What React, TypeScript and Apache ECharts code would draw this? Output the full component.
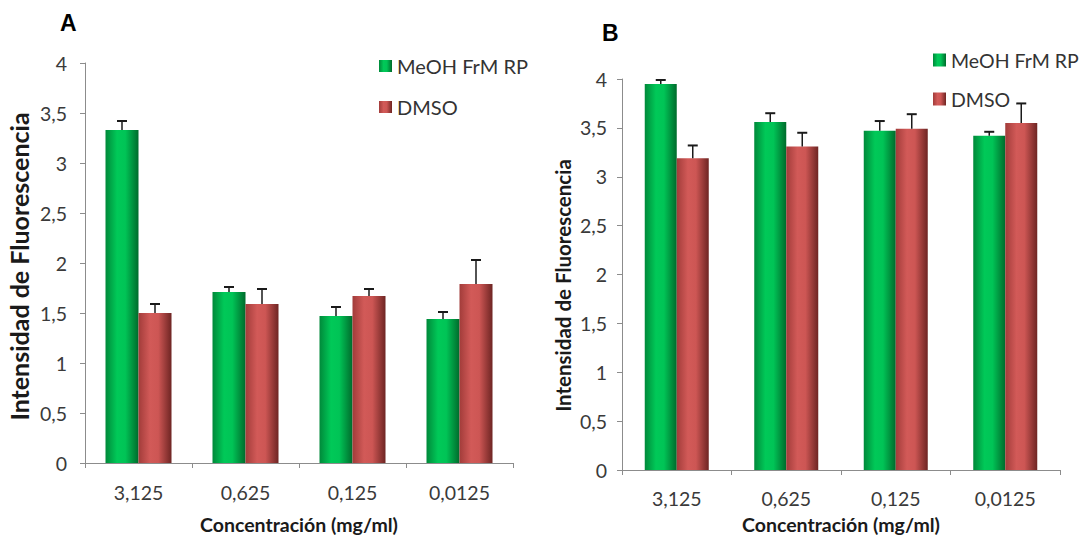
import React, { useEffect, useRef } from "react";
import * as echarts from "echarts";

const categories = ["3,125", "0,625", "0,125", "0,0125"];
const seriesNames = ["MeOH FrM RP", "DMSO"];
const yTicksMax = 4;
const yTickStep = 0.5;

// Panel A
const aMeOH = [3.33, 1.71, 1.47, 1.44];
const aMeOHErr = [0.09, 0.05, 0.09, 0.07];
const aDMSO = [1.5, 1.59, 1.67, 1.79];
const aDMSOErr = [0.09, 0.15, 0.07, 0.24];

// Panel B
const bMeOH = [3.95, 3.56, 3.47, 3.42];
const bMeOHErr = [0.04, 0.09, 0.1, 0.04];
const bDMSO = [3.19, 3.31, 3.49, 3.55];
const bDMSOErr = [0.13, 0.14, 0.15, 0.2];

const FONT = "Lato";

const greenGrad = new echarts.graphic.LinearGradient(0, 0, 1, 0, [
  { offset: 0, color: "#00893a" },
  { offset: 0.35, color: "#00c958" },
  { offset: 0.6, color: "#00c456" },
  { offset: 1, color: "#006b2c" },
]);
const redGrad = new echarts.graphic.LinearGradient(0, 0, 1, 0, [
  { offset: 0, color: "#a23c3a" },
  { offset: 0.35, color: "#d25a58" },
  { offset: 0.6, color: "#cd5654" },
  { offset: 1, color: "#6e2523" },
]);

function errSeries(name: string, gridIdx: number, vals: number[], errs: number[], offset: number) {
  return {
    type: "custom",
    name: name + " err",
    xAxisIndex: gridIdx,
    yAxisIndex: gridIdx,
    z: 10,
    silent: true,
    encode: { x: 0, y: 1 },
    data: vals.map((v, i) => [i, v, errs[i]]),
    renderItem: (params: any, api: any) => {
      const idx = api.value(0);
      const val = api.value(1);
      const err = api.value(2);
      const base = api.coord([idx, val]);
      const top = api.coord([idx, val + err]);
      const x = base[0] + offset;
      return {
        type: "group",
        children: [
          { type: "line", shape: { x1: x, y1: base[1], x2: x, y2: top[1] }, style: { stroke: "#1a1a1a", lineWidth: 1.5 } },
          { type: "line", shape: { x1: x - 5, y1: top[1], x2: x + 5, y2: top[1] }, style: { stroke: "#1a1a1a", lineWidth: 2 } },
        ],
      };
    },
  };
}

function barSeries(name: string, gridIdx: number, vals: number[], grad: any, bw: number) {
  return {
    type: "bar",
    name,
    xAxisIndex: gridIdx,
    yAxisIndex: gridIdx,
    barWidth: bw,
    barGap: "0%",
    data: vals,
    itemStyle: { color: grad },
  };
}

function xAxisCfg(gridIdx: number, labelMargin: number, nameGap: number) {
  return {
    type: "category",
    gridIndex: gridIdx,
    data: categories,
    axisLine: { lineStyle: { color: "#8c8c8c", width: 1 } },
    axisTick: { show: true, length: 5, lineStyle: { color: "#8c8c8c" } },
    axisLabel: { color: "#3a3a3a", fontSize: 19.5, fontFamily: FONT, margin: labelMargin },
    name: "Concentración (mg/ml)",
    nameLocation: "middle",
    nameGap,
    nameTextStyle: { color: "#1a1a1a", fontSize: 19.5, fontWeight: "bold", fontFamily: FONT },
  };
}

function yAxisCfg(gridIdx: number, labelMargin: number, nameGap: number, nameSize: number, padRight: number) {
  return {
    type: "value",
    gridIndex: gridIdx,
    min: 0,
    max: yTicksMax,
    interval: yTickStep,
    axisLine: { show: true, lineStyle: { color: "#8c8c8c", width: 1 } },
    axisTick: { show: true, length: 5, lineStyle: { color: "#8c8c8c" } },
    splitLine: { show: false },
    axisLabel: {
      color: "#3a3a3a",
      fontSize: 19.5,
      fontFamily: FONT,
      margin: labelMargin,
      formatter: (v: number) => String(v).replace(".", ","),
    },
    name: "Intensidad de Fluorescencia",
    nameLocation: "middle",
    nameGap,
    nameTextStyle: {
      color: "#1a1a1a",
      fontSize: nameSize,
      fontWeight: "bold",
      fontFamily: FONT,
      padding: [0, padRight, 0, 0],
    },
  };
}

export default function App() {
  const ref = useRef<HTMLDivElement>(null);
  useEffect(() => {
    if (!ref.current) return;
    const chart = echarts.init(ref.current, null, { renderer: "svg" });
    chart.setOption({
      animation: false,
      backgroundColor: "#ffffff",
      grid: [
        { left: 85, right: 575, top: 63, bottom: 73 },
        { left: 622, right: 28, top: 79, bottom: 67 },
      ],
      xAxis: [xAxisCfg(0, 19, 51), xAxisCfg(1, 18, 44)],
      yAxis: [yAxisCfg(0, 18, 54, 25, 7), yAxisCfg(1, 15, 49, 20.5, 22)],
      legend: [
        {
          data: seriesNames,
          orient: "vertical",
          left: 374,
          top: 51,
          itemWidth: 13,
          itemHeight: 12,
          itemGap: 21,
          icon: "rect",
          textStyle: { color: "#333", fontSize: 20, lineHeight: 20, fontFamily: FONT },
        },
        {
          data: seriesNames,
          orient: "vertical",
          left: 928,
          top: 45,
          itemWidth: 13,
          itemHeight: 13,
          itemGap: 19,
          icon: "rect",
          textStyle: { color: "#333", fontSize: 19.5, lineHeight: 20, fontFamily: FONT },
        },
      ],
      graphic: [
        { type: "text", left: 60, top: 11, style: { text: "A", fontSize: 23, fontWeight: "bold", fontFamily: "Liberation Sans", fill: "#000" } },
        { type: "text", left: 602, top: 21, style: { text: "B", fontSize: 23, fontWeight: "bold", fontFamily: "Liberation Sans", fill: "#000" } },
      ],
      series: [
        barSeries(seriesNames[0], 0, aMeOH, greenGrad, 33),
        barSeries(seriesNames[1], 0, aDMSO, redGrad, 33),
        barSeries(seriesNames[0], 1, bMeOH, greenGrad, 32),
        barSeries(seriesNames[1], 1, bDMSO, redGrad, 32),
        errSeries(seriesNames[0], 0, aMeOH, aMeOHErr, -16.5),
        errSeries(seriesNames[1], 0, aDMSO, aDMSOErr, 16.5),
        errSeries(seriesNames[0], 1, bMeOH, bMeOHErr, -16),
        errSeries(seriesNames[1], 1, bDMSO, bDMSOErr, 16),
      ],
    });
    return () => chart.dispose();
  }, []);
  return <div ref={ref} style={{ width: 1088, height: 539, position: "absolute", left: 0, top: 0 }} />;
}
